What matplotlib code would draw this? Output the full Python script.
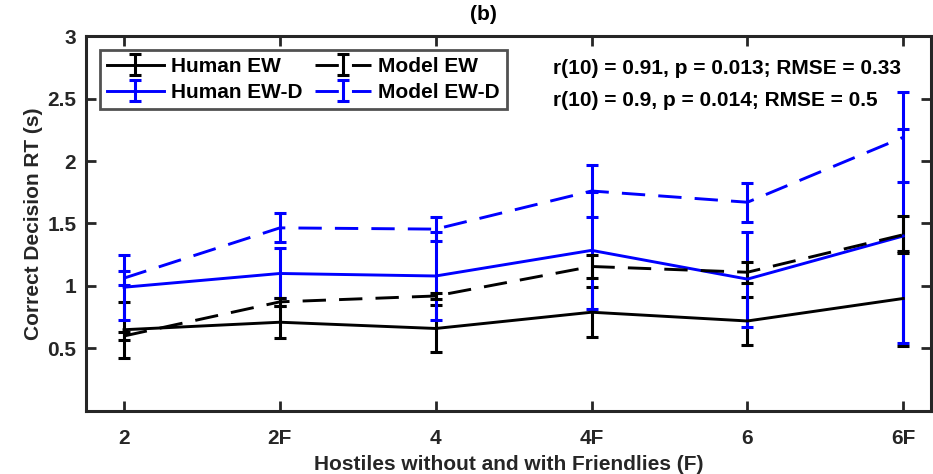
import matplotlib
matplotlib.use("Agg")
import matplotlib.pyplot as plt
import numpy as np

plt.rcParams['font.family'] = ['Liberation Sans', 'DejaVu Sans']
plt.rcParams['font.weight'] = 'bold'

# data
conditions = ["2", "2F", "4", "4F", "6", "6F"]

human_ew = [0.65, 0.71, 0.66, 0.79, 0.72, 0.90]
human_ew_err = [0.225, 0.13, 0.19, 0.20, 0.19, 0.38]

human_ewd = [0.99, 1.10, 1.08, 1.285, 1.055, 1.40]
human_ewd_err = [0.26, 0.20, 0.35, 0.47, 0.38, 0.86]

model_ew = [0.60, 0.873, 0.92, 1.156, 1.11, 1.41]
model_ew_err = [0.03, 0.032, 0.025, 0.093, 0.085, 0.147]

model_ewd = [1.063, 1.465, 1.455, 1.76, 1.67, 2.19]
model_ewd_err = [0.053, 0.115, 0.095, 0.205, 0.155, 0.36]

stats_ew = "r(10) = 0.91, p = 0.013; RMSE = 0.33"
stats_ewd = "r(10) = 0.9, p = 0.014; RMSE = 0.5"

x = np.arange(1, len(conditions) + 1)
fs = 15

fig = plt.figure(figsize=(9.33, 4.74), dpi=100)
ax = fig.add_axes([0.0922, 0.133, 0.906, 0.791])

dash = (8, 4.5)
kw = dict(linewidth=2.1, elinewidth=2.2, capsize=4.5, capthick=2.2)

ax.errorbar(x, human_ew, yerr=human_ew_err, color="black", label="Human EW", **kw)
ax.errorbar(x, human_ewd, yerr=human_ewd_err, color="#0000ff", label="Human EW-D", **kw)
h3 = ax.errorbar(x, model_ew, yerr=model_ew_err, color="black", label="Model EW", **kw)
h4 = ax.errorbar(x, model_ewd, yerr=model_ewd_err, color="#0000ff", label="Model EW-D", **kw)
h3[0].set_dashes(dash)
h4[0].set_dashes(dash)

ax.set_xlim(0.756, 6.18)
ax.set_ylim(0, 3)
ax.set_xticks(x)
ax.set_xticklabels(conditions)
ax.set_yticks([0.5, 1, 1.5, 2, 2.5, 3])
ax.set_yticklabels(["0.5", "1", "1.5", "2", "2.5", "3"])
ax.tick_params(direction="in", length=7, width=2, colors="#262626",
               labelsize=fs, top=True, right=True)
ax.tick_params(axis="x", pad=13)
ax.tick_params(axis="y", pad=7)
for lab in ax.get_xticklabels() + ax.get_yticklabels():
    lab.set_color("#262626")
    lab.set_fontweight("bold")
for sp in ax.spines.values():
    sp.set_linewidth(2.2)
    sp.set_color("#262626")

ax.set_xlabel("Hostiles without and with Friendlies (F)", fontsize=fs,
              fontweight="bold", color="#262626", labelpad=5)
ax.set_ylabel("Correct Decision RT (s)", fontsize=fs, fontweight="bold",
              color="#262626", labelpad=3)
fig.text(483 / 933, 1 - 14 / 474, "(b)", ha="center", va="center",
         fontsize=fs, fontweight="bold")

ax.text(553 / 933, 1 - 68 / 474, stats_ew, transform=fig.transFigure,
        fontsize=fs, fontweight="bold", va="center")
ax.text(553 / 933, 1 - 100 / 474, stats_ewd, transform=fig.transFigure,
        fontsize=fs, fontweight="bold", va="center")

leg = ax.legend(ncol=2, loc="upper left", bbox_to_anchor=(0.0166, 0.963),
                borderaxespad=0, fontsize=fs, handlelength=2.7,
                columnspacing=0.6, handletextpad=0.35, borderpad=0.35,
                labelspacing=0.33, fancybox=False, edgecolor="#262626")
leg.get_frame().set_linewidth(2)

fig.savefig("out.png", dpi=100)
